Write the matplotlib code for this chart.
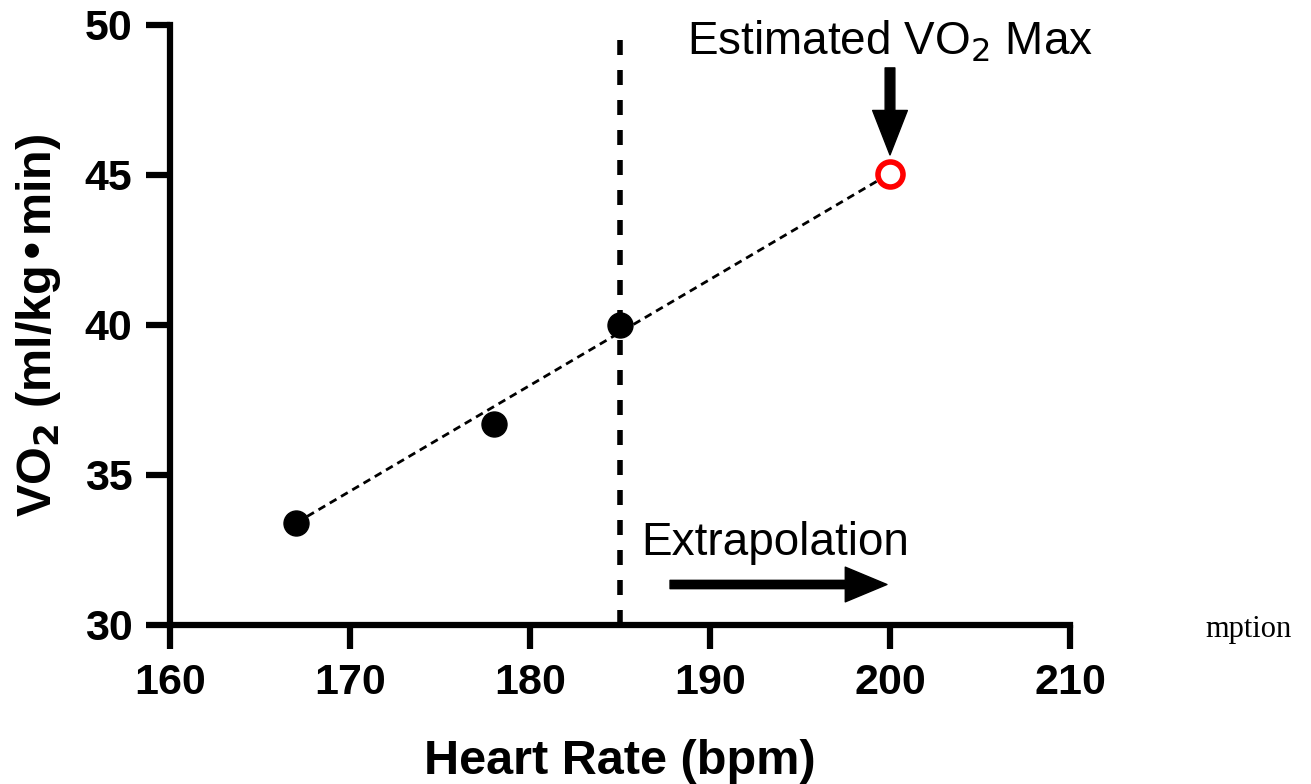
import matplotlib.pyplot as plt

plt.rcParams['font.family'] = ['Liberation Sans', 'DejaVu Sans']

# measured points
hr = [167, 178, 185]
vo2 = [33.4, 36.7, 40.0]
# estimated max
hr_max = 200
vo2_max = 45.05
threshold_hr = 185

fig = plt.figure(figsize=(13.11, 7.84), dpi=100)
ax = fig.add_axes([170/1311, 159/784, 900/1311, 600/784])

ax.plot([hr[0], hr_max], [vo2[0], vo2_max], color='black', lw=2,
        ls=(0, (2.8, 1.9)), zorder=2)
ax.plot(hr, vo2, 'o', color='black', markersize=18, zorder=3)
ax.plot([hr_max], [vo2_max], 'o', mfc='white', mec='red', mew=4,
        markersize=18, zorder=3)
ax.plot([threshold_hr, threshold_hr], [30, 49.8], color='black', lw=4,
        ls=(0, (2.7, 2.7)), zorder=2)

ax.set_xlim(160, 210)
ax.set_ylim(30, 50)
ax.set_xticks([160, 170, 180, 190, 200, 210])
ax.set_yticks([30, 35, 40, 45, 50])
for s in ['top', 'right']:
    ax.spines[s].set_visible(False)
for s in ['left', 'bottom']:
    ax.spines[s].set_linewidth(4.5)
ax.tick_params(width=4.5, length=17, direction='out', pad=10,
               labelsize=31)
for lab in ax.get_xticklabels() + ax.get_yticklabels():
    lab.set_fontweight('bold')

ax.set_xlabel('Heart Rate (bpm)', fontsize=35, fontweight='bold', labelpad=26)
ax.set_ylabel('VO$_\\mathbf{2}$ (ml/kg•min)', fontsize=35, fontweight='bold',
              labelpad=16)

ax.text(hr_max, 49.0, 'Estimated VO$_2$ Max', fontsize=33, ha='center',
        va='baseline', clip_on=False)
ax.annotate('', xy=(hr_max, 45.67), xytext=(hr_max, 48.57),
            arrowprops=dict(width=7, headwidth=25, headlength=32,
                            color='black', shrink=0))

ax.text(186.2, 32.33, 'Extrapolation', fontsize=33, ha='left', va='baseline')
ax.annotate('', xy=(199.83, 31.35), xytext=(187.78, 31.35),
            arrowprops=dict(width=6, headwidth=25, headlength=30,
                            color='black', shrink=0))

fig.text(1205/1311, 1 - 630/784, 'mption', fontsize=22,
         family='Liberation Serif', ha='left', va='center')

fig.savefig('out.png', dpi=100)
